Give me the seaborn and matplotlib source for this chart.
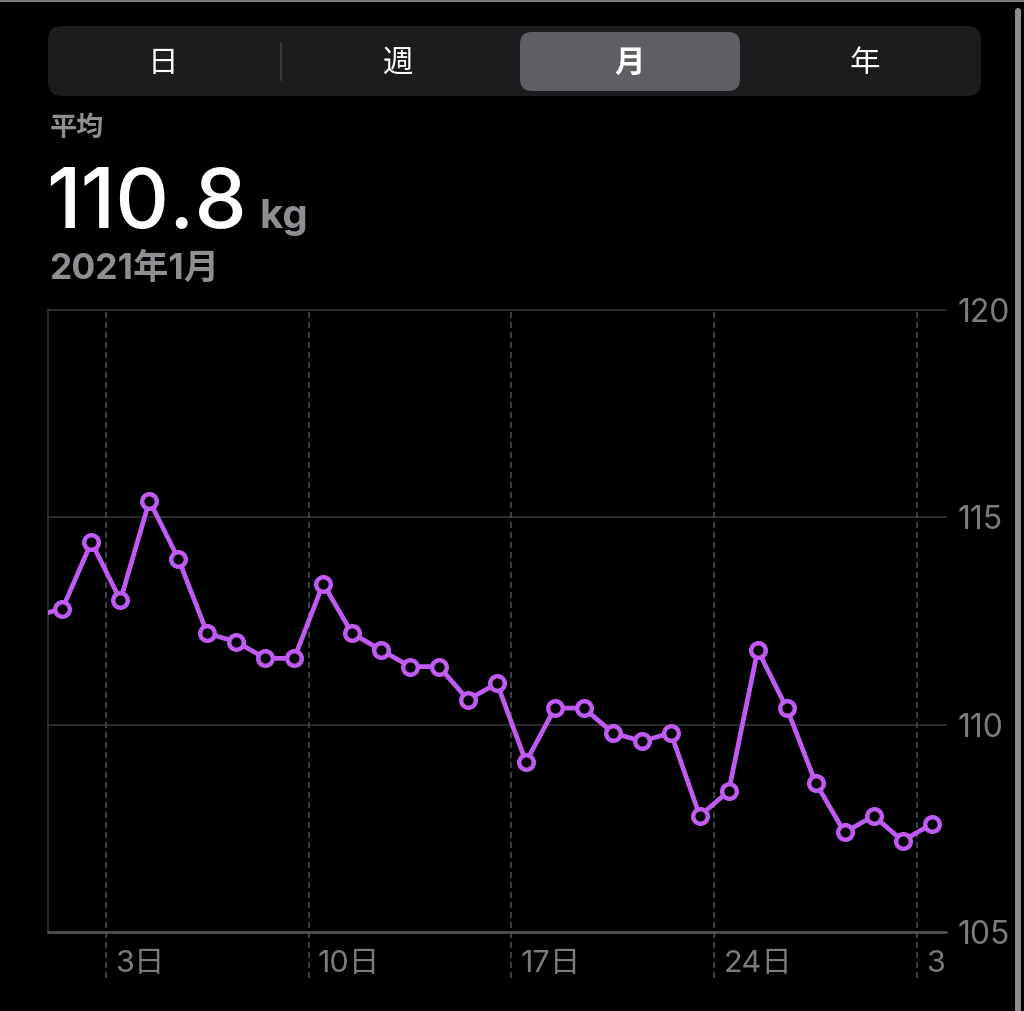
import pandas as pd
import seaborn as sns
import matplotlib.pyplot as plt
from matplotlib.patches import FancyBboxPatch, Rectangle
from matplotlib.lines import Line2D
from matplotlib.transforms import Bbox, TransformedBbox, ScaledTranslation, blended_transform_factory

# day 0 = Dec 31 (only the line coming in from the left edge is visible)
days = list(range(0, 32))
weights = [112.6, 112.8, 114.4, 113.0, 115.4, 114.0, 112.2, 112.0, 111.6, 111.6,
           113.4, 112.2, 111.8, 111.4, 111.4, 110.6, 111.0, 109.1, 110.4, 110.4,
           109.8, 109.6, 109.8, 107.8, 108.4, 111.8, 110.4, 108.6, 107.4, 107.8,
           107.2, 107.6]
tick_days = [3, 10, 17, 24, 31]
tick_labels = ['3日', '10日', '17日', '24日', '31日']
y_ticks = [105, 110, 115, 120]
segments = ['日', '週', '月', '年']
selected = '月'
avg_label = '平均'
avg_value = '110.8'
unit = 'kg'
period = '2021年1月'

purple = '#BF5AF2'
gray_text = '#8e8e93'
tick_gray = '#7a7a7f'

df = pd.DataFrame({'day': days, 'kg': weights})
df['x'] = df['day'] - 0.5

sns.set_theme(style='dark')
plt.rcParams['font.family'] = ['Inter', 'Noto Sans CJK JP', 'DejaVu Sans']

W, H = 1024, 1011
fig = plt.figure(figsize=(W / 100, H / 100), dpi=100, facecolor='black')
ax = fig.add_axes([48 / W, (H - 932) / H, (946 - 48) / W, (932 - 310) / H])
ax.set_facecolor('black')

for y in y_ticks[1:]:
    ax.axhline(y, color='#333336', lw=1.2, clip_on=False, zorder=1)

for d in tick_days:
    ax.axvline(d - 1, ymin=-46 / 622, ymax=1, color='#4c4c50', lw=1.2,
               ls=(0, (3.6, 2.4)), clip_on=False, zorder=1)

sns.lineplot(data=df, x='x', y='kg', ax=ax, color=purple, lw=3.4, marker='o',
             markersize=10.5, markerfacecolor='black', markeredgecolor=purple,
             markeredgewidth=3.2, errorbar=None, zorder=3)

ax.set_xlim(0, 31)
ax.set_ylim(105, 120)
ax.set_xlabel('')
ax.set_ylabel('')
ax.set_xticks([])
ax.yaxis.tick_right()
ax.set_yticks(y_ticks)
ax.tick_params(axis='y', length=0, pad=8, labelsize=23, labelcolor=tick_gray)

for side in ['top', 'right']:
    ax.spines[side].set_visible(False)
ax.spines['left'].set_color('#333336')
ax.spines['left'].set_linewidth(1.2)
ax.spines['bottom'].set_color('#58585c')
ax.spines['bottom'].set_linewidth(1.8)

# day labels sit just right of each dashed line, clipped at the plot edge
clip = TransformedBbox(Bbox([[0, 0], [946 / W, 1]]), fig.transFigure)
trans = blended_transform_factory(ax.transData, ax.transAxes) + ScaledTranslation(0.09, 0, fig.dpi_scale_trans)
for d, lab in zip(tick_days, tick_labels):
    t = ax.text(d - 1, -32 / 622, lab, transform=trans, ha='left', va='center',
                fontsize=22, color=tick_gray, clip_on=True)
    t.set_clip_box(clip)

# segmented control
px = lambda v: v / 100
fig.add_artist(FancyBboxPatch((px(48), px(H - 96)), px(933), px(70),
                              boxstyle='round,pad=0,rounding_size=0.14',
                              transform=fig.dpi_scale_trans, fc='#1c1c1e', ec='none'))
fig.add_artist(FancyBboxPatch((px(520), px(H - 91)), px(220), px(59),
                              boxstyle='round,pad=0,rounding_size=0.12',
                              transform=fig.dpi_scale_trans, fc='#5e5e63', ec='none'))
fig.add_artist(Line2D([px(281), px(281)], [px(H - 80), px(H - 43)],
                      transform=fig.dpi_scale_trans, color='#3a3a3c', lw=1.5))
for lab, cx in zip(segments, [163, 398, 630, 865]):
    fig.text(cx / W, 1 - 64 / H, lab, ha='center', va='center', fontsize=22,
             color='white', weight='bold' if lab == selected else 'normal')

# header
fig.text(50 / W, 1 - 129 / H, avg_label, ha='left', va='center', fontsize=19.5,
         color=gray_text, weight='bold')
fig.text(46 / W, 1 - 228 / H, avg_value, ha='left', va='baseline', fontsize=60,
         color='white', weight='medium')
fig.text(260 / W, 1 - 228 / H, unit, ha='left', va='baseline', fontsize=29,
         color=gray_text, weight='bold')
fig.text(49 / W, 1 - 269 / H, period, ha='left', va='center', fontsize=25.5,
         color=gray_text, weight='bold')

# screenshot frame edges
fig.add_artist(Rectangle((0, px(H - 2)), px(W), px(2), transform=fig.dpi_scale_trans,
                         fc='#7a7a7a', ec='none'))
fig.add_artist(FancyBboxPatch((px(1015), px(-10)), px(6), px(H - 8 + 10),
                              boxstyle='round,pad=0,rounding_size=0.03',
                              transform=fig.dpi_scale_trans, fc='#8e8e8e', ec='none'))

fig.savefig('out.png', dpi=100, facecolor='black')
